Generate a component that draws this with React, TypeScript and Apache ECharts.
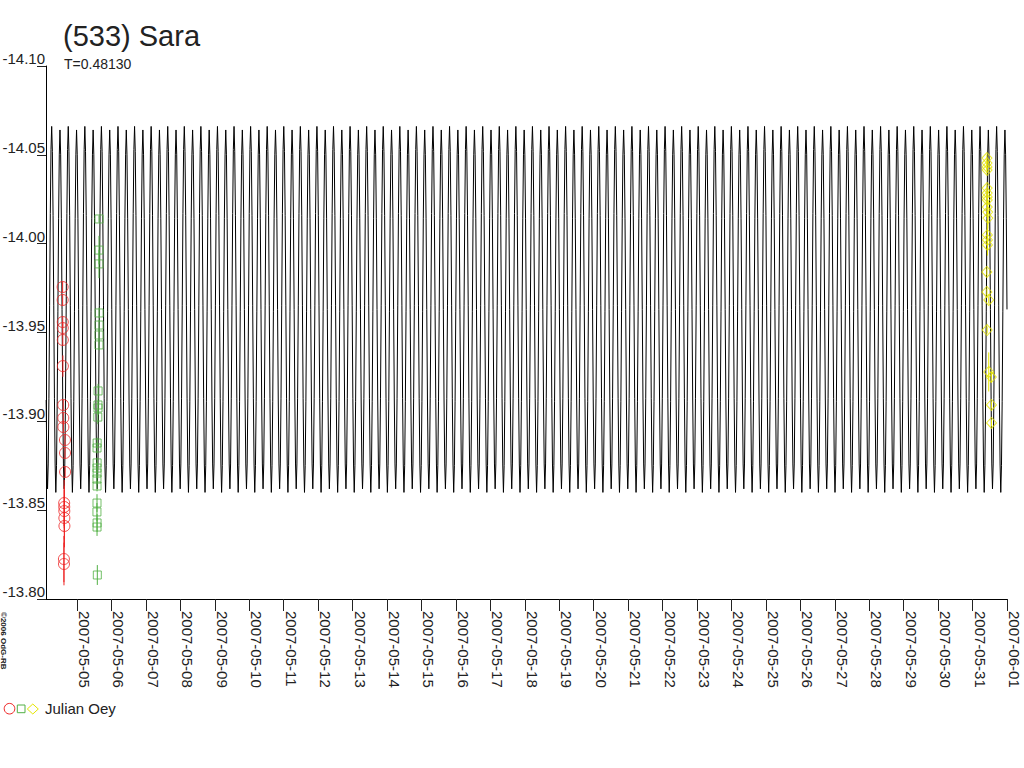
import React, { useEffect, useRef } from 'react';
import * as echarts from 'echarts';

// ---- data ----
const TITLE = '(533) Sara';
const SUBTITLE = 'T=0.48130';
const OBSERVER = 'Julian Oey';
const COPYRIGHT = '©2006 OdG-RB';

const PERIOD = 0.4813; // days
const EPOCH_MAX = 4.265; // May day number of a primary maximum
const CURVE_START = 4.1;
const CURVE_END = 32.0;
// one rotation period of the model curve (24 phase samples, magnitudes)
const curveProfile = [
  -14.066, -14.052, -14.016, -13.965, -13.913, -13.876, -13.86, -13.875,
  -13.911, -13.962, -14.014, -14.05, -14.064, -14.05, -14.014, -13.963,
  -13.912, -13.876, -13.862, -13.876, -13.913, -13.965, -14.017, -14.053,
];

const tickDays = [5, 6, 7, 8, 9, 10, 11, 12, 13, 14, 15, 16, 17, 18, 19, 20, 21, 22, 23, 24, 25, 26, 27, 28, 29, 30, 31, 32];
const tickLabels = [
  '2007-05-05', '2007-05-06', '2007-05-07', '2007-05-08', '2007-05-09', '2007-05-10', '2007-05-11',
  '2007-05-12', '2007-05-13', '2007-05-14', '2007-05-15', '2007-05-16', '2007-05-17', '2007-05-18',
  '2007-05-19', '2007-05-20', '2007-05-21', '2007-05-22', '2007-05-23', '2007-05-24', '2007-05-25',
  '2007-05-26', '2007-05-27', '2007-05-28', '2007-05-29', '2007-05-30', '2007-05-31', '2007-06-01',
];

const redDay = [4.583, 4.584, 4.586, 4.587, 4.588, 4.59, 4.6, 4.602, 4.604, 4.65, 4.652, 4.655, 4.628, 4.63, 4.632, 4.633, 4.635, 4.62, 4.622];
const redMag = [-13.9756, -13.9683, -13.9559, -13.9525, -13.9458, -13.9311, -13.9092, -13.9019, -13.8968, -13.8895, -13.8822, -13.8715, -13.854, -13.8518, -13.8495, -13.8456, -13.8411, -13.8225, -13.8197];
const redErr = [0.003, 0.003, 0.003, 0.003, 0.003, 0.006, 0.003, 0.003, 0.003, 0.003, 0.003, 0.003, 0.013, 0.012, 0.012, 0.012, 0.012, 0.013, 0.012];

const greenDay = [5.64, 5.639, 5.638, 5.641, 5.64, 5.639, 5.638, 5.612, 5.61, 5.611, 5.605, 5.585, 5.582, 5.584, 5.581, 5.583, 5.58, 5.582, 5.581, 5.579, 5.583, 5.582, 5.59];
const greenMag = [-14.0139, -13.9964, -13.9886, -13.961, -13.9542, -13.9486, -13.943, -13.9171, -13.9092, -13.9075, -13.9024, -13.8878, -13.885, -13.8766, -13.8737, -13.8709, -13.8675, -13.8636, -13.854, -13.849, -13.8428, -13.8405, -13.8135];
const greenErr = [0.002, 0.008, 0.008, 0.003, 0.003, 0.003, 0.003, 0.004, 0.004, 0.004, 0.004, 0.003, 0.003, 0.003, 0.003, 0.003, 0.003, 0.003, 0.005, 0.005, 0.005, 0.005, 0.0056];

const yellowDay = [31.418, 31.42, 31.421, 31.422, 31.424, 31.425, 31.426, 31.427, 31.428, 31.44, 31.445, 31.43, 31.432, 31.433, 31.415, 31.416, 31.47, 31.423, 31.47, 31.545, 31.548, 31.55];
const yellowMag = [-14.0482, -14.0454, -14.0432, -14.0415, -14.0313, -14.0285, -14.0263, -14.0246, -14.0206, -14.0178, -14.0144, -14.0049, -14.0021, -13.9993, -13.9841, -13.9728, -13.9683, -13.9514, -13.9278, -13.9249, -13.9092, -13.8991];
const yellowErr = [0.002, 0.002, 0.002, 0.002, 0.002, 0.002, 0.002, 0.002, 0.002, 0.006, 0.006, 0.006, 0.006, 0.006, 0.002, 0.002, 0.002, 0.002, 0.011, 0.003, 0.002, 0.002];

const Y_MIN = -14.1;
const Y_MAX = -13.8;
const Y_STEP = 0.05;

const RED = '#ee2424';
const GREEN = '#52b045';
const YELLOW = '#e6e600';
const INK = '#222222';
const FONT = '"Liberation Sans", Arial, sans-serif';

function buildCurve(): number[][] {
  const pts: number[][] = [];
  const n = curveProfile.length;
  for (let k = -2; k < 62; k++) {
    for (let j = 0; j < n; j++) {
      const t = EPOCH_MAX + (k + j / n) * PERIOD;
      if (t >= CURVE_START && t <= CURVE_END) pts.push([t, curveProfile[j]]);
    }
  }
  return pts;
}

function errorSeries(days: number[], mags: number[], errs: number[], color: string) {
  return {
    type: 'custom',
    silent: true,
    encode: { x: 0, y: [1, 2] },
    data: days.map((d, i) => [d, mags[i] - errs[i], mags[i] + errs[i]]),
    renderItem: (params: any, api: any) => {
      const p1 = api.coord([api.value(0), api.value(1)]);
      const p2 = api.coord([api.value(0), api.value(2)]);
      return {
        type: 'line',
        shape: { x1: p1[0], y1: p1[1], x2: p2[0], y2: p2[1] },
        style: { stroke: color, lineWidth: 1 },
      };
    },
    z: 3,
  };
}

function pointSeries(days: number[], mags: number[], symbol: string, size: any, color: string) {
  return {
    type: 'scatter',
    symbol,
    symbolSize: size,
    data: days.map((d, i) => [d, mags[i]]),
    itemStyle: { color: 'rgba(0,0,0,0)', borderColor: color, borderWidth: 1 },
    z: 4,
  };
}

export default function App() {
  const ref = useRef<HTMLDivElement>(null);

  useEffect(() => {
    if (!ref.current) return;
    const chart = echarts.init(ref.current, undefined, { renderer: 'svg' });
    const option: any = {
      animation: false,
      backgroundColor: '#ffffff',
      textStyle: { fontFamily: FONT },
      grid: { left: 46, top: 66, right: 17, bottom: 169, containLabel: false, outerBoundsMode: 'none' },
      xAxis: {
        type: 'value',
        min: CURVE_START,
        max: CURVE_END,
        splitLine: { show: false },
        axisLine: { onZero: false, lineStyle: { color: '#000', width: 1 } },
        axisTick: { customValues: tickDays, length: 12, lineStyle: { color: INK } },
        axisLabel: {
          customValues: tickDays,
          rotate: -90,
          margin: 12,
          align: 'left',
          verticalAlign: 'bottom',
          fontSize: 15,
          color: INK,
          fontFamily: FONT,
          formatter: (v: number) => tickLabels[tickDays.indexOf(Math.round(v))] ?? '',
        },
      },
      yAxis: {
        type: 'value',
        inverse: true,
        min: Y_MIN,
        max: Y_MAX,
        interval: Y_STEP,
        splitLine: { show: false },
        axisLine: { show: true, lineStyle: { color: '#000', width: 1 } },
        axisTick: { show: true, length: 9, lineStyle: { color: INK } },
        axisLabel: {
          margin: 1,
          align: 'right',
          verticalAlign: 'bottom',
          fontSize: 15,
          color: INK,
          fontFamily: FONT,
          formatter: (v: number) => v.toFixed(2),
        },
      },
      series: [
        {
          type: 'line',
          data: buildCurve(),
          showSymbol: false,
          symbol: 'none',
          lineStyle: { color: '#000', width: 1 },
          silent: true,
          z: 2,
        },
        errorSeries(redDay, redMag, redErr, RED),
        errorSeries(greenDay, greenMag, greenErr, GREEN),
        errorSeries(yellowDay, yellowMag, yellowErr, YELLOW),
        pointSeries(redDay, redMag, 'circle', 11, RED),
        pointSeries(greenDay, greenMag, 'rect', 8, GREEN),
        pointSeries(yellowDay, yellowMag, 'diamond', [10, 11], YELLOW),
      ],
      graphic: [
        {
          type: 'text', x: 63, y: 21,
          style: { text: TITLE, fontSize: 29, fontFamily: FONT, fill: INK, verticalAlign: 'top' },
        },
        {
          type: 'text', x: 64, y: 57,
          style: { text: SUBTITLE, fontSize: 14, fontFamily: FONT, fill: INK, verticalAlign: 'top' },
        },
        {
          type: 'text', x: 3.5, y: 612, rotation: -Math.PI / 2,
          style: { text: COPYRIGHT, fontSize: 8, fontWeight: 'bold', fontFamily: FONT, fill: INK, align: 'left', verticalAlign: 'middle' },
        },
        { type: 'circle', shape: { cx: 9.5, cy: 708.7, r: 5.3 }, style: { fill: 'none', stroke: RED, lineWidth: 1 } },
        { type: 'rect', shape: { x: 17.3, y: 705, width: 7.7, height: 7.7 }, style: { fill: 'none', stroke: GREEN, lineWidth: 1 } },
        {
          type: 'polygon',
          shape: { points: [[32.8, 704], [38.3, 709], [32.8, 714], [27.3, 709]] },
          style: { fill: 'none', stroke: YELLOW, lineWidth: 1 },
        },
        {
          type: 'text', x: 45, y: 708,
          style: { text: OBSERVER, fontSize: 15, fontFamily: FONT, fill: INK, verticalAlign: 'middle' },
        },
      ],
    };
    chart.setOption(option);
    return () => chart.dispose();
  }, []);

  return <div ref={ref} style={{ position: 'fixed', left: 0, top: 0, width: 1024, height: 768 }} />;
}
